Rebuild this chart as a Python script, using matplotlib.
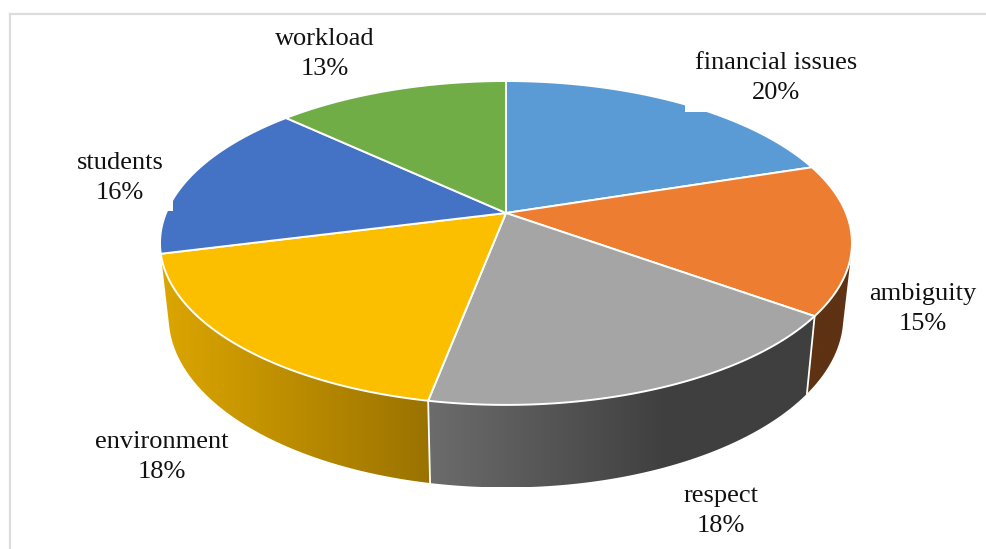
import numpy as np
import matplotlib
matplotlib.use('Agg')
import matplotlib.pyplot as plt
from matplotlib.colors import to_rgb
from matplotlib.patches import Polygon, Rectangle

categories = ['financial issues', 'ambiguity', 'respect', 'environment', 'students', 'workload']
values = [20, 15, 18, 18, 16, 13]
colors = ['#5b9bd5', '#ed7d31', '#a5a5a5', '#fbbf00', '#4472c4', '#70ad47']

# side wall shading, left and right end of each slice
wall_left = ['#3b6a96', '#5e3213', '#6c6c6c', '#dca600', '#2f5597', '#4e7a32']
wall_right = ['#3b6a96', '#5e3213', '#3f3f3f', '#9a7200', '#2f5597', '#4e7a32']
wall_span = [1.0, 1.0, 0.62, 1.0, 1.0, 1.0]

# label centres in pixels
label_x = [776, 923, 721, 162, 120, 325]
label_y = [78, 309, 511, 457, 178, 54]

# perspective of the pie disc
CX = 506
TILT = 0.185
TOP_CY, TOP_A, TOP_B = 213, 156.4, 340
BOT_CY, BOT_A, BOT_B = 285, 165, 331.5


def rim(theta, cy, a, b):
    # theta is measured clockwise from 12 o'clock, in radians
    x = np.sin(theta)
    y = np.cos(theta)
    w = 1 + TILT * y
    return CX + b * x / w, cy - a * y / w


fig = plt.figure(figsize=(9.87, 5.49), dpi=100)
ax = fig.add_axes([0, 0, 1, 1])
ax.axis('off')

# thin frame, only top and left show
ax.plot([9.5, 9.5], [549, 13.5], color='#dcdcdc', lw=1.6, zorder=1)
ax.plot([9.5, 987], [13.5, 13.5], color='#dcdcdc', lw=1.6, zorder=1)

edges = np.radians(np.concatenate([[0], np.cumsum(values)]) * 3.6)

# side wall, only the front part of the disc can be seen
vis_start, vis_end = np.radians(103), edges[4]
for i in range(len(values)):
    t0 = max(edges[i], vis_start)
    t1 = min(edges[i + 1], vis_end)
    if t1 <= t0:
        continue
    t = np.linspace(t0, t1, 120)
    xt, yt = rim(t, TOP_CY, TOP_A, TOP_B)
    xb, yb = rim(t, BOT_CY, BOT_A, BOT_B)
    outline = np.column_stack([np.r_[xt, xb[::-1]], np.r_[yt, yb[::-1]]])
    lo, hi = outline[:, 0].min(), outline[:, 0].max()

    # horizontal gradient clipped to the wall shape
    f = np.clip(np.linspace(0, 1, 256) / wall_span[i], 0, 1)[:, None]
    c0, c1 = np.array(to_rgb(wall_left[i])), np.array(to_rgb(wall_right[i]))
    shade = (c0 + (c1 - c0) * f)[None, :, :]
    im = ax.imshow(shade, extent=[lo, hi, outline[:, 1].max(), outline[:, 1].min()],
                   aspect='auto', interpolation='bilinear', zorder=2)
    wall = Polygon(outline, closed=True, facecolor='none', edgecolor='none', transform=ax.transData)
    ax.add_patch(wall)
    im.set_clip_path(wall)

# white seams on the wall between slices
for e in edges[1:-1]:
    if vis_start < e < vis_end:
        xt, yt = rim(e, TOP_CY, TOP_A, TOP_B)
        xb, yb = rim(e, BOT_CY, BOT_A, BOT_B)
        ax.plot([xt, xb], [yt, yb], color='white', lw=1.3, zorder=3)

# top faces
for i in range(len(values)):
    t = np.linspace(edges[i], edges[i + 1], 120)
    xt, yt = rim(t, TOP_CY, TOP_A, TOP_B)
    pts = np.column_stack([np.r_[CX, xt], np.r_[TOP_CY, yt]])
    ax.add_patch(Polygon(pts, closed=True, facecolor=colors[i], edgecolor='white', lw=1.4, joinstyle='round', zorder=4))

# label boxes sit over the disc and bite into it
ax.add_patch(Rectangle((685, 40), 190, 72, facecolor='white', edgecolor='none', zorder=5))
ax.add_patch(Rectangle((70, 145), 103, 66, facecolor='white', edgecolor='none', zorder=5))

for i in range(len(values)):
    ax.text(label_x[i], label_y[i], categories[i] + '\n' + str(values[i]) + '%',
            family='Liberation Serif', fontsize=19, color='#111111',
            ha='center', va='center', linespacing=1.52, zorder=6)

ax.set_xlim(0, 987)
ax.set_ylim(549, 0)

fig.savefig('out.png', dpi=100)
